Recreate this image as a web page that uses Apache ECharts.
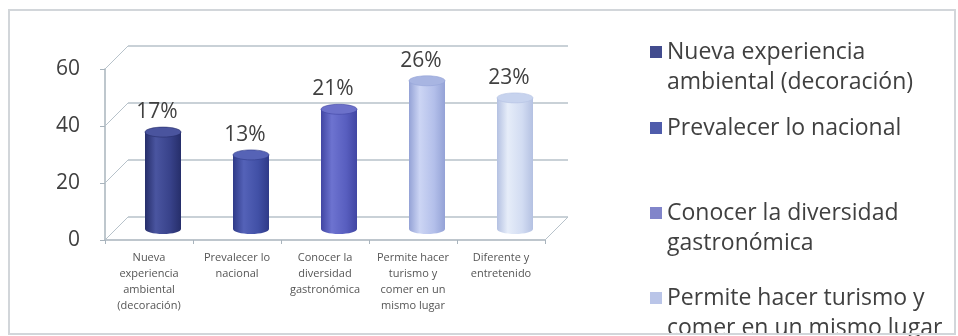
<!DOCTYPE html>
<html>
<head>
<meta charset="utf-8">
<script src="https://cdn.jsdelivr.net/npm/echarts@6/dist/echarts.min.js"></script>
<style>
  html, body { margin: 0; padding: 0; background: #ffffff; }
  #wrap { position: relative; width: 958px; height: 336px; overflow: hidden; }
  #chart { position: absolute; left: 0; top: 0; width: 958px; height: 336px; }
  #frame { position: absolute; left: 8px; top: 9px; width: 948px; height: 326px;
           border: 2px solid #d2d6da; box-sizing: border-box; pointer-events: none; }
</style>
</head>
<body>
<div id="wrap">
  <div id="chart"></div>
  <div id="frame"></div>
</div>
<script>
// Motivos de preferencia (número de respuestas)
const categories = [
  'Nueva experiencia ambiental (decoración)',
  'Prevalecer lo nacional',
  'Conocer la diversidad gastronómica',
  'Permite hacer turismo y comer en un mismo lugar',
  'Diferente y entretenido'
];
// Wrapped forms of the category names
const axisLabels = [
  'Nueva\nexperiencia\nambiental\n(decoración)',
  'Prevalecer lo\nnacional',
  'Conocer la\ndiversidad\ngastronómica',
  'Permite hacer\nturismo y\ncomer en un\nmismo lugar',
  'Diferente y\nentretenido'
];
const legendLabels = [
  'Nueva experiencia\nambiental (decoración)',
  'Prevalecer lo nacional',
  'Conocer la diversidad\ngastronómica',
  'Permite hacer turismo y\ncomer en un mismo lugar',
  'Diferente y entretenido'
];
const responses = [34, 26, 42, 52, 46];
const yTicks = [0, 20, 40, 60];

// Colours
const legendColors = ['#424c8e', '#4f5cab', '#8185ca', '#bac5e8', '#d6def2'];
const shades = [
  { edge: '#262e6a', mid: '#38428a', hi: '#4a55a0', top: '#4a549e' },
  { edge: '#2f3a88', mid: '#4150a6', hi: '#5462b8', top: '#5663b6' },
  { edge: '#4146a3', mid: '#585ebf', hi: '#6d73d0', top: '#6c71ca' },
  { edge: '#94a2d6', mid: '#b3bfea', hi: '#ccd5f4', top: '#a8b5e2' },
  { edge: '#b4c1e2', mid: '#d2dcf2', hi: '#e6edf9', top: '#c7d3ee' }
];
const FONT = '"Open Sans", sans-serif';
const TEXT = '#404040';
const GRID_LINE = '#b7c2ca';

// 3D look: back wall offset, bar offset (mid depth)
const DEPTH = [23, -23];
const BAR_SHIFT = [14, -11];
const BAR_RX = 18, BAR_RY = 5;

const total = responses.reduce((a, b) => a + b, 0);
const pct = v => Math.round(v / total * 100) + '%';

function cylinder(i) {
  return function (params, api) {
    const v = api.value(1);
    const top = api.coord([i, v]);
    const base = api.coord([i, 0]);
    const cx = top[0] + BAR_SHIFT[0];
    const yt = top[1] + BAR_SHIFT[1];
    const yb = base[1] + BAR_SHIFT[1];
    const s = shades[i];
    const body = new echarts.graphic.LinearGradient(0, 0, 1, 0, [
      { offset: 0, color: s.edge },
      { offset: 0.3, color: s.hi },
      { offset: 0.7, color: s.mid },
      { offset: 1, color: s.edge }
    ]);
    return {
      type: 'group',
      children: [
        { type: 'ellipse', shape: { cx: cx, cy: yb, rx: BAR_RX, ry: BAR_RY }, style: { fill: body } },
        { type: 'rect', shape: { x: cx - BAR_RX, y: yt, width: BAR_RX * 2, height: yb - yt }, style: { fill: body } },
        { type: 'ellipse', shape: { cx: cx, cy: yt, rx: BAR_RX, ry: BAR_RY },
          style: { fill: s.top, stroke: s.edge, lineWidth: 0.6 } },
        { type: 'text', x: cx - 6, y: yt - 20,
          style: { text: pct(v), fontSize: 21, fontFamily: FONT, fill: TEXT,
                   align: 'center', verticalAlign: 'middle' } }
      ]
    };
  };
}

// Diagonal depth lines at each y tick, plus right edge of the floor
function depthLines(params, api) {
  const v = api.value(1);
  const p = api.coord([0, v]);
  const cs = params.coordSys;
  const st = { stroke: GRID_LINE, lineWidth: 1 };
  const kids = [{ type: 'line', shape: { x1: cs.x, y1: p[1], x2: cs.x + DEPTH[0], y2: p[1] + DEPTH[1] }, style: st }];
  if (v === 0) {
    const xr = cs.x + cs.width;
    kids.push({ type: 'line', shape: { x1: xr, y1: p[1], x2: xr + DEPTH[0], y2: p[1] + DEPTH[1] }, style: st });
  }
  return { type: 'group', children: kids };
}

// Legend: one block per entry. Two-line entries use a tall swatch box whose
// square sits at the top, so the square lines up with the first text line.
const LEG_LINE = 30;
const SWATCH = 12;
const TALL = LEG_LINE + SWATCH; // icon box height for two lines
const TALL_ICON = 'path://M0,0L12,0L12,12L0,12Z M0,' + TALL + 'L12,' + TALL;
const legendTops = [37, 113, 198, 283, 400];

function draw() {
  const chart = echarts.init(document.getElementById('chart'), null, { renderer: 'canvas' });
  chart.setOption({
    backgroundColor: '#ffffff',
    animation: false,
    textStyle: { fontFamily: FONT },
    grid: [
      { left: 105, top: 69, width: 440, height: 171 },
      { left: 128, top: 46, width: 440, height: 171 }
    ],
    xAxis: [
      {
        type: 'category', gridIndex: 0, data: categories,
        axisLine: { show: true, lineStyle: { color: '#a9b4bd', width: 1.5 } },
        axisTick: { show: true, length: 4, lineStyle: { color: '#a9b4bd' } },
        axisLabel: { interval: 0, fontSize: 11, color: '#555555', lineHeight: 16, margin: 10,
                     fontFamily: FONT, formatter: (val, idx) => axisLabels[idx] }
      },
      {
        type: 'category', gridIndex: 1, data: categories,
        axisLine: { show: false }, axisTick: { show: false }, axisLabel: { show: false }
      }
    ],
    yAxis: [
      {
        type: 'value', gridIndex: 0, min: 0, max: 60, interval: 20,
        axisLine: { show: true, lineStyle: { color: '#a9b4bd', width: 1.5 } },
        axisTick: { show: true, length: 5, lineStyle: { color: '#a9b4bd' } },
        splitLine: { show: false },
        axisLabel: { fontSize: 21, color: TEXT, margin: 25, fontFamily: FONT }
      },
      {
        type: 'value', gridIndex: 1, min: 0, max: 60, interval: 20,
        axisLine: { show: false }, axisTick: { show: false }, axisLabel: { show: false },
        splitLine: { show: true, lineStyle: { color: GRID_LINE, width: 1.5 } }
      }
    ],
    legend: categories.map((name, i) => {
      const twoLines = legendLabels[i].indexOf('\n') >= 0;
      return {
        data: [name],
        left: 650, top: legendTops[i],
        orient: 'vertical', padding: 0, itemGap: 0,
        itemWidth: SWATCH, itemHeight: twoLines ? TALL : SWATCH,
        icon: twoLines ? TALL_ICON : 'rect',
        selectedMode: false,
        formatter: () => legendLabels[i],
        textStyle: { fontSize: 23, color: TEXT, fontFamily: FONT, lineHeight: LEG_LINE }
      };
    }),
    series: [
      {
        type: 'custom', name: 'depth', xAxisIndex: 0, yAxisIndex: 0, silent: true, z: 1,
        data: yTicks.map(v => [0, v]),
        renderItem: depthLines
      }
    ].concat(categories.map((name, i) => ({
      type: 'custom', name: name, xAxisIndex: 0, yAxisIndex: 0, z: 5,
      itemStyle: { color: legendColors[i] },
      data: [[i, responses[i]]],
      renderItem: cylinder(i)
    })))
  });
}

if (document.fonts && document.fonts.load) {
  Promise.all([
    document.fonts.load('23px "Open Sans"'),
    document.fonts.load('11px "Open Sans"')
  ]).then(draw, draw);
} else {
  draw();
}
</script>
</body>
</html>
